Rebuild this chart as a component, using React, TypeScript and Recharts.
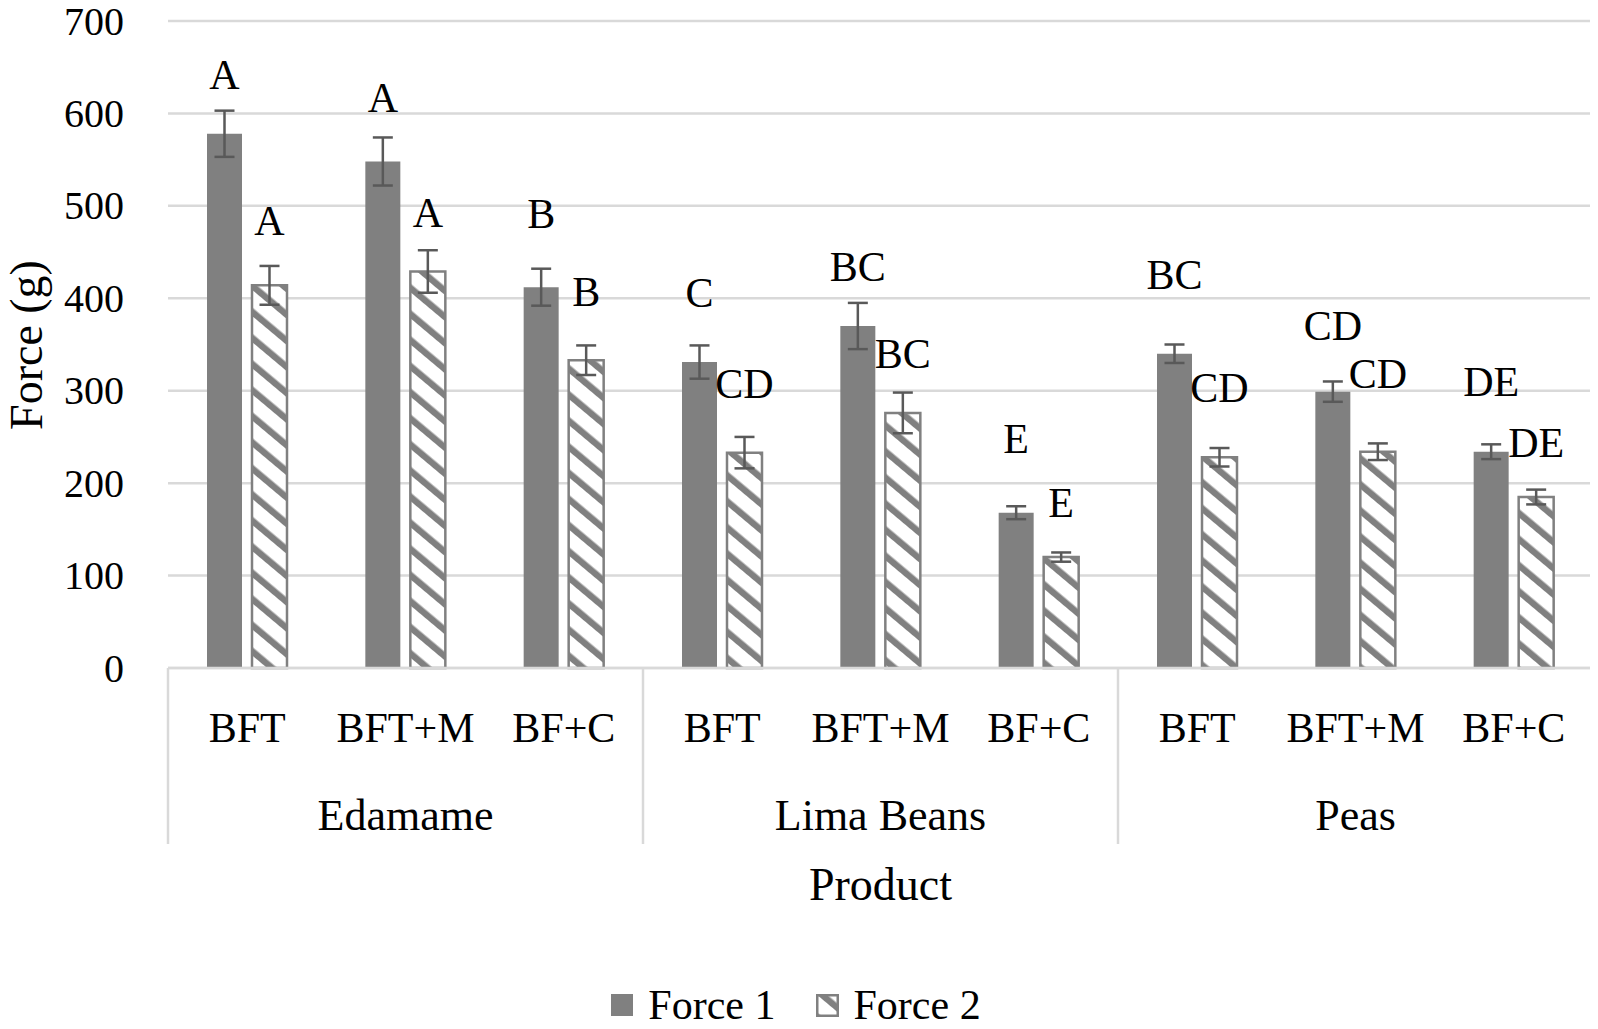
import React from 'react';
import { BarChart, Bar, XAxis, YAxis, CartesianGrid, Legend, ErrorBar, LabelList } from 'recharts';

// Force per product / treatment
const products = ['Edamame', 'Lima Beans', 'Peas'];
const treatments = ['BFT', 'BFT+M', 'BF+C'];

const force1 = [578, 548, 412, 331, 370, 168, 340, 299, 234];
const force1Err = [25, 26, 20, 18, 25, 7, 10, 11, 8];
const force2 = [414, 429, 333, 233, 276, 120, 228, 234, 185];
const force2Err = [21, 23, 16, 17, 22, 5, 10, 9, 8];

// significance letters and the height (in g) where each one sits
const force1Letters = ['A', 'A', 'B', 'C', 'BC', 'E', 'BC', 'CD', 'DE'];
const force1LetterAt = [642, 617, 491, 406, 434, 248, 425, 370, 309];
const force2Letters = ['A', 'A', 'B', 'CD', 'BC', 'E', 'CD', 'CD', 'DE'];
const force2LetterAt = [484, 492, 407, 307, 340, 179, 303, 318, 243];

const yTicks = [0, 100, 200, 300, 400, 500, 600, 700];

const data = force1.map((v, i) => ({
  key: `${products[Math.floor(i / 3)]}-${treatments[i % 3]}`,
  treatment: treatments[i % 3],
  product: products[Math.floor(i / 3)],
  force1: v,
  force1Err: force1Err[i],
  force2: force2[i],
  force2Err: force2Err[i],
}));

const W = 1598;
const H = 1029;
const MARGIN = { top: 21, right: 5, left: 0, bottom: 0 };
const Y_AXIS_W = 168;
const LEGEND_H = 48;
const X_AXIS_H = 313;
const BAND = (W - MARGIN.left - MARGIN.right - Y_AXIS_W) / data.length;
const FONT = '"Liberation Serif", "Times New Roman", serif';
const GRAY = '#808080';
const LIGHT = '#d9d9d9';
const ERR = '#595959';

function CategoryTick(props: any) {
  const { x, y, index } = props;
  const row = data[index];
  if (!row) return null;
  return (
    <g>
      <text x={x} y={y + 60} textAnchor="middle" dominantBaseline="central" fontSize={42} fontFamily={FONT} fill="#000">
        {row.treatment}
      </text>
      {index % 3 === 1 && (
        <text x={x} y={y + 147} textAnchor="middle" dominantBaseline="central" fontSize={44} fontFamily={FONT} fill="#000">
          {row.product}
        </text>
      )}
      {index % 3 === 0 && (
        <line x1={x - BAND / 2} x2={x - BAND / 2} y1={y} y2={y + 176} stroke={LIGHT} strokeWidth={2.5} />
      )}
      {index === data.length - 1 && (
        <line x1={x + BAND / 2} x2={x + BAND / 2} y1={y} y2={y + 176} stroke={LIGHT} strokeWidth={2.5} />
      )}
    </g>
  );
}

function ValueTick(props: any) {
  const { x, y, payload } = props;
  return (
    <text x={x} y={y} textAnchor="end" dominantBaseline="central" fontSize={40} fontFamily={FONT} fill="#000">
      {payload.value}
    </text>
  );
}

function letterLabel(letters: string[], heights: number[]) {
  return (p: any) => {
    const vb = p.viewBox ?? p;
    const { x, y, width, height } = vb;
    const value = Number(p.value);
    if (!value || height == null) return null;
    const perUnit = height / value;
    const cy = y + height - heights[p.index] * perUnit;
    return (
      <text x={x + width / 2} y={cy} textAnchor="middle" dominantBaseline="central" fontSize={42} fontFamily={FONT} fill="#000">
        {letters[p.index]}
      </text>
    );
  };
}

function yTitle(p: any) {
  const vb = p.viewBox;
  const cx = vb.x + 26;
  const cy = 345;
  return (
    <text x={cx} y={cy} transform={`rotate(-90, ${cx}, ${cy})`} textAnchor="middle" dominantBaseline="central" fontSize={46} fontFamily={FONT} fill="#000">
      Force (g)
    </text>
  );
}

function xTitle(p: any) {
  const vb = p.viewBox;
  return (
    <text x={vb.x + vb.width / 2} y={vb.y + 216} textAnchor="middle" dominantBaseline="central" fontSize={46} fontFamily={FONT} fill="#000">
      Product
    </text>
  );
}

function LegendContent() {
  const item = { display: 'flex', alignItems: 'center', gap: 15 } as const;
  return (
    <div style={{ display: 'flex', justifyContent: 'center', alignItems: 'center', gap: 40, height: LEGEND_H, lineHeight: 1, fontFamily: FONT, fontSize: 42, color: '#000', marginLeft: -6 }}>
      <div style={item}>
        <svg width={22} height={22}>
          <rect width={22} height={22} fill={GRAY} />
        </svg>
        <span>Force 1</span>
      </div>
      <div style={item}>
        <svg width={23} height={23}>
          <rect x={1.25} y={1.25} width={20.5} height={20.5} fill="url(#hatch)" stroke={GRAY} strokeWidth={2.5} />
        </svg>
        <span>Force 2</span>
      </div>
    </div>
  );
}

export default function App() {
  return (
    <div style={{ margin: -8, width: W, height: H, overflow: 'hidden', background: '#fff', position: 'relative' }}>
      <svg width={0} height={0} style={{ position: 'absolute' }}>
        <defs>
          <pattern id="hatch" patternUnits="userSpaceOnUse" width={20} height={20} patternTransform="rotate(-50)">
            <rect width={20} height={20} fill="#fff" />
            <rect width={6.5} height={20} fill={GRAY} />
          </pattern>
        </defs>
      </svg>
      <BarChart width={W} height={H} data={data} margin={MARGIN} barGap={10} barSize={35}>
        <CartesianGrid vertical={false} stroke={LIGHT} strokeWidth={2.5} />
        <YAxis
          width={Y_AXIS_W}
          domain={[0, 700]}
          ticks={yTicks}
          axisLine={false}
          tickLine={false}
          tickSize={0}
          tickMargin={44}
          tick={<ValueTick />}
          label={{ content: yTitle }}
        />
        <XAxis
          dataKey="key"
          height={X_AXIS_H}
          interval={0}
          tickLine={false}
          tickSize={0}
          tickMargin={0}
          axisLine={{ stroke: LIGHT, strokeWidth: 2.5 }}
          tick={<CategoryTick />}
          label={{ content: xTitle }}
        />
        <Legend verticalAlign="bottom" height={LEGEND_H} content={<LegendContent />} wrapperStyle={{ left: 0, width: W }} />
        <Bar dataKey="force1" name="Force 1" fill={GRAY} isAnimationActive={false}>
          <ErrorBar dataKey="force1Err" width={10} stroke={ERR} strokeWidth={2.5} isAnimationActive={false} />
          <LabelList dataKey="force1" content={letterLabel(force1Letters, force1LetterAt)} />
        </Bar>
        <Bar dataKey="force2" name="Force 2" fill="url(#hatch)" stroke={GRAY} strokeWidth={2.5} isAnimationActive={false}>
          <ErrorBar dataKey="force2Err" width={10} stroke={ERR} strokeWidth={2.5} isAnimationActive={false} />
          <LabelList dataKey="force2" content={letterLabel(force2Letters, force2LetterAt)} />
        </Bar>
      </BarChart>
    </div>
  );
}
